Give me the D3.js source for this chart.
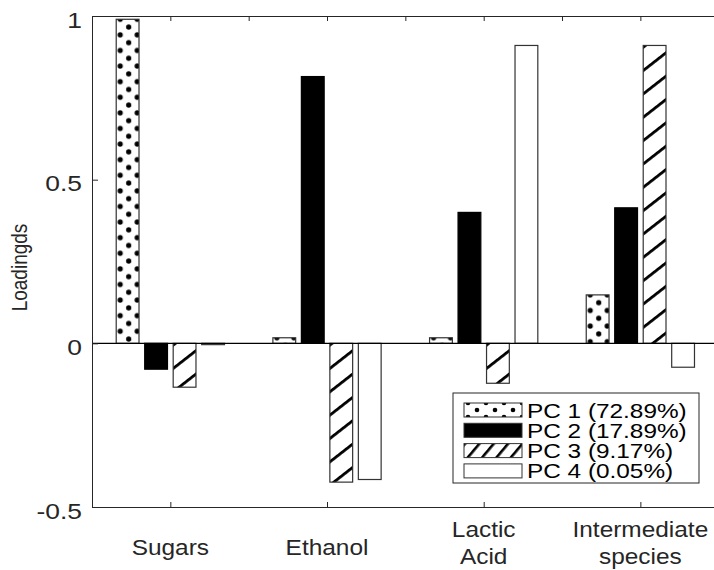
<!DOCTYPE html>
<html>
<head>
<meta charset="utf-8">
<script src="https://cdn.jsdelivr.net/npm/d3@7"></script>
<style>
  html, body { margin: 0; padding: 0; background: #fff; }
  svg { display: block; font-family: "Liberation Sans", Arial, sans-serif; }
</style>
</head>
<body>
<svg id="chart" width="714" height="570"></svg>
<script>
// Principal component loadings per variable
const categories = [["Sugars"], ["Ethanol"], ["Lactic", "Acid"], ["Intermediate", "species"]];
const seriesNames = ["PC 1 (72.89%)", "PC 2 (17.89%)", "PC 3 (9.17%)", "PC 4 (0.05%)"];
const pc1 = [0.99, 0.017, 0.017, 0.148];
const pc2 = [-0.079, 0.815, 0.40, 0.414];
const pc3 = [-0.134, -0.424, -0.122, 0.91];
const pc4 = [-0.004, -0.416, 0.91, -0.073];
const yTicks = [-0.5, 0, 0.5, 1];
const yTickLabels = ["-0.5", "0", "0.5", "1"];

const series = [pc1, pc2, pc3, pc4];
const fills = ["dots", "solid", "hatch", "empty"];

const svg = d3.select("#chart");
const defs = svg.append("defs");

const x = d3.scaleLinear().domain([0.5, 4.5]).range([92, 718.7]);
const y = d3.scaleLinear().domain([-0.5, 1]).range([507, 16]);

const nSeries = series.length;
const groupWidth = Math.min(0.8, nSeries / (nSeries + 1.5));
const slot = groupWidth / nSeries;
const barW = x(slot * 0.8) - x(0);
const axisColor = "#262626";

// Pattern builders
function dotPattern(id, ox, oy, w, h, r) {
  const p = defs.append("pattern").attr("id", id)
    .attr("patternUnits", "userSpaceOnUse")
    .attr("width", w).attr("height", h)
    .attr("patternTransform", `translate(${ox},${oy})`);
  p.append("rect").attr("width", w).attr("height", h).attr("fill", "#fff");
  [[0, 0], [w, 0], [0, h], [w, h], [w / 2, h / 2]].forEach(([cx, cy]) =>
    p.append("circle").attr("cx", cx).attr("cy", cy).attr("r", r).attr("fill", "#000"));
  return `url(#${id})`;
}
function hatchPattern(id, ox, oy, spacing, angle, lw) {
  const p = defs.append("pattern").attr("id", id)
    .attr("patternUnits", "userSpaceOnUse")
    .attr("width", 10).attr("height", spacing)
    .attr("patternTransform", `translate(${ox},${oy}) rotate(${-angle})`);
  p.append("rect").attr("width", 10).attr("height", spacing).attr("fill", "#fff");
  p.append("rect").attr("y", 0).attr("width", 10).attr("height", lw).attr("fill", "#000");
  return `url(#${id})`;
}

// Bars
const bars = [];
series.forEach((vals, s) => {
  vals.forEach((v, c) => {
    const center = (c + 1) + (s - (nSeries - 1) / 2) * slot;
    const left = x(center) - barW / 2;
    const top = y(Math.max(0, v));
    const h = Math.abs(y(v) - y(0));
    bars.push({ s, c, v, left, top, h });
  });
});

const barG = svg.append("g");
bars.forEach(b => {
  let fill;
  if (fills[b.s] === "dots") fill = dotPattern(`d${b.s}_${b.c}`, b.left + 4, b.top, 17, 15.6, 2.6);
  else if (fills[b.s] === "hatch") fill = hatchPattern(`h${b.s}_${b.c}`, b.left, b.top, 18.4, 38, 2.8);
  else if (fills[b.s] === "solid") fill = "#000";
  else fill = "#fff";
  barG.append("rect")
    .attr("x", b.left).attr("y", b.top)
    .attr("width", barW).attr("height", Math.max(b.h, 1))
    .attr("fill", fill)
    .attr("stroke", fills[b.s] === "solid" ? "#000" : "#333")
    .attr("stroke-width", 1.2);
});

// Zero baseline
svg.append("line")
  .attr("x1", x(0.5)).attr("x2", 714)
  .attr("y1", y(0)).attr("y2", y(0))
  .attr("stroke", "#000").attr("stroke-width", 1.2);

// Axes (ticks point inward)
const yAxis = svg.append("g").attr("transform", `translate(${x(0.5)},0)`)
  .call(d3.axisLeft(y).tickValues(yTicks).tickSizeInner(-6).tickSizeOuter(0).tickPadding(10)
    .tickFormat((d, i) => yTickLabels[i]));
const xAxis = svg.append("g").attr("transform", `translate(0,${y(-0.5)})`)
  .call(d3.axisBottom(x).tickValues([1, 2, 3, 4]).tickSizeInner(-5).tickSizeOuter(0).tickFormat(""));
const topAxis = svg.append("g").attr("transform", `translate(0,${y(1)})`)
  .call(d3.axisTop(x).tickValues(d3.range(1, 4.51, 0.5)).tickSizeInner(-5).tickSizeOuter(0).tickFormat(""));

[yAxis, xAxis, topAxis].forEach(g => {
  g.selectAll(".domain").attr("stroke", axisColor).attr("stroke-width", 1);
  g.selectAll(".tick line").attr("stroke", axisColor).attr("stroke-width", 1);
});
yAxis.selectAll(".tick text")
  .attr("font-size", 22).attr("fill", "#262626")
  .attr("font-family", "Liberation Sans, Arial, sans-serif")
  .each(function () {
    const t = d3.select(this);
    const tx = +t.attr("x");
    t.attr("x", null).attr("dy", "0.5em")
      .attr("transform", `translate(${tx},0) scale(1.2,1)`);
  });

// Category labels
const catG = svg.append("g").attr("font-size", 22).attr("fill", "#262626").attr("text-anchor", "middle");
categories.forEach((lines, i) => {
  const base = lines.length === 1 ? 555 : 537;
  lines.forEach((ln, j) => {
    catG.append("text")
      .attr("transform", `translate(${x(i + 1)},${base + j * 26.5}) scale(1.11,1)`)
      .text(ln);
  });
});

// Y label
svg.append("text")
  .attr("transform", `translate(27,${(y(1) + y(-0.5)) / 2 + 6}) rotate(-90) scale(1,1.18)`)
  .attr("text-anchor", "middle")
  .attr("font-size", 19).attr("fill", "#262626")
  .text("Loadingds");

// Legend
const lg = svg.append("g");
lg.append("rect").attr("x", 453).attr("y", 393).attr("width", 246).attr("height", 90)
  .attr("fill", "#fff").attr("stroke", "#262626").attr("stroke-width", 1);
seriesNames.forEach((name, i) => {
  const cy = 410 + i * 20.3;
  const sx = 464, sw = 58, sh = 14;
  let fill;
  if (fills[i] === "dots") fill = dotPattern(`ld${i}`, sx + 4, cy - 7, 18, 14, 2.3);
  else if (fills[i] === "hatch") fill = hatchPattern(`lh${i}`, sx + 2, cy + 7, 11, 50, 2.6);
  else if (fills[i] === "solid") fill = "#000";
  else fill = "#fff";
  lg.append("rect").attr("x", sx).attr("y", cy - sh / 2).attr("width", sw).attr("height", sh)
    .attr("fill", fill).attr("stroke", "#333").attr("stroke-width", 1);
  lg.append("text")
    .attr("transform", `translate(527,${cy + 7.5}) scale(1.16,1)`)
    .attr("font-size", 21).attr("fill", "#000")
    .text(name);
});
</script>
</body>
</html>
